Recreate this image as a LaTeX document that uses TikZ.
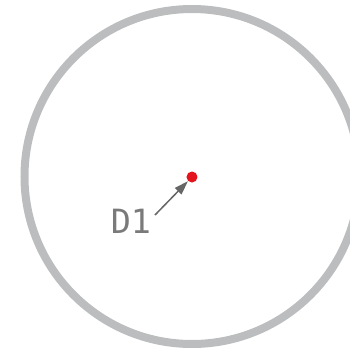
\documentclass[tikz,border=0pt]{standalone}
\usepackage{fontspec}
\newfontfamily\labelfont{DejaVu Sans Mono}
\usetikzlibrary{arrows.meta}

\definecolor{ringgray}{HTML}{BCBDBF}
\definecolor{textgray}{HTML}{7A7A7A}
\definecolor{arrowgray}{HTML}{666666}
\definecolor{dotred}{HTML}{E3141C}

\begin{document}
\begin{tikzpicture}[
    ring/.style={line width=0.16cm, ringgray},
    pointdot/.style={circle, fill=dotred, inner sep=0pt, minimum size=0.22cm},
    pointlabel/.style={textgray, font=\labelfont\fontsize{19}{19}\selectfont, inner sep=0pt},
    pointer/.style={-{Triangle[length=0.28cm, width=0.18cm]}, arrowgray, line width=0.03cm}
]
    \useasboundingbox (0, 0) rectangle (7, 7);
    \clip (0, 0) rectangle (7, 7);

    % Outer ring
    \draw[ring] (3.84, 3.47) circle (3.35cm);

    % Point D1
    \node[pointdot] (d1pt) at (3.84, 3.46) {};
    \node[pointlabel] (d1) at (2.62, 2.58) {D1};

    % Pointer from label to point
    \coordinate (d1tail) at (3.10, 2.70);
    \draw[pointer] (d1tail) -- (d1pt);

\end{tikzpicture}
\end{document}
